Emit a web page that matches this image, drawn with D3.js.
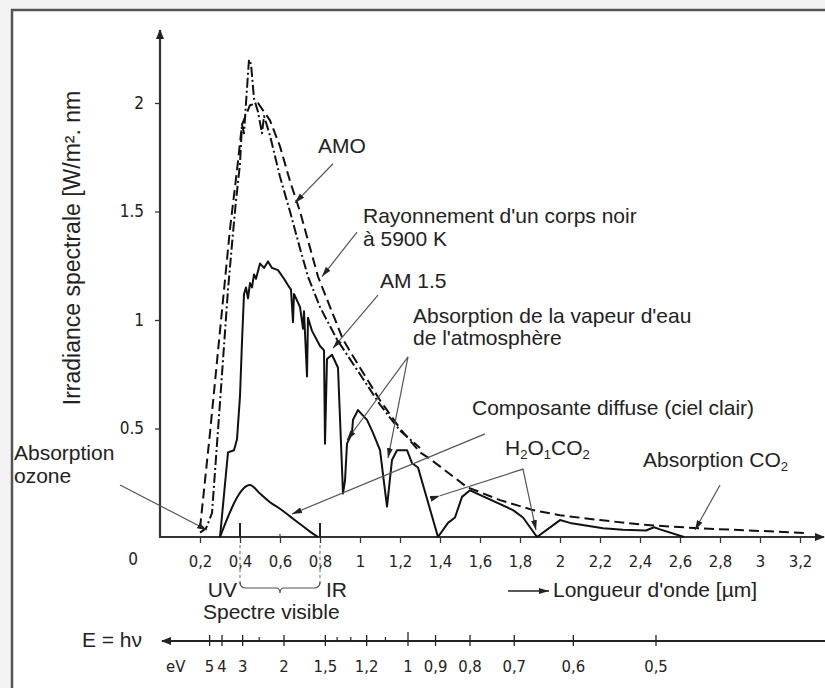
<!DOCTYPE html>
<html>
<head>
<meta charset="utf-8">
<script src="https://cdn.jsdelivr.net/npm/d3@7"></script>
<style type="text/css">
body { margin: 0; background: #f3f3f3; }
svg { display: block; }
.lbl { font-family: "Liberation Sans", Arial, sans-serif; font-size: 21px; fill: #222; }
.tk { font-family: "Liberation Sans Narrow", "DejaVu Sans Condensed", sans-serif; font-size: 16.5px; fill: #222; }
.curve { fill: none; stroke: #111; stroke-width: 2; stroke-linejoin: round; }
.note { fill: none; stroke: #555; stroke-width: 1.2; }
</style>
</head>
<body>
<div id="chart"></div>
<script>

// wavelength (µm) / spectral irradiance (W/m².nm)
var am0_wl  = [0.20, 0.23, 0.26, 0.30, 0.34, 0.36, 0.38, 0.40, 0.41, 0.42, 0.43, 0.445, 0.455, 0.47, 0.49, 0.51, 0.52, 0.55, 0.60, 0.65, 0.70, 0.74, 0.80, 0.885, 1.0, 1.1, 1.2, 1.3];
var am0_val = [0.02, 0.04, 0.11, 0.62, 1.14, 1.35, 1.55, 1.72, 1.90, 1.86, 2.00, 2.20, 2.18, 2.02, 1.96, 1.86, 1.94, 1.85, 1.66, 1.50, 1.33, 1.20, 1.06, 0.91, 0.75, 0.61, 0.49, 0.41];

var bb_wl  = [0.20, 0.25, 0.30, 0.35, 0.385, 0.41, 0.45, 0.49, 0.55, 0.60, 0.65, 0.70, 0.79, 0.915, 1.0, 1.1, 1.2, 1.3, 1.35, 1.535, 1.7, 1.865, 2.0, 2.2, 2.42, 2.7, 3.0, 3.24];
var bb_val = [0.04, 0.48, 0.95, 1.42, 1.69, 1.90, 1.99, 2.00, 1.92, 1.80, 1.64, 1.50, 1.20, 0.91, 0.78, 0.63, 0.50, 0.39, 0.36, 0.23, 0.17, 0.124, 0.10, 0.078, 0.056, 0.04, 0.028, 0.018];

var am15_wl  = [0.30, 0.34, 0.37, 0.385, 0.40, 0.41, 0.42, 0.43, 0.44, 0.45, 0.46, 0.47, 0.48, 0.50, 0.52, 0.54, 0.56, 0.59, 0.62, 0.64, 0.655, 0.665, 0.67, 0.69, 0.70, 0.715, 0.72, 0.735, 0.74, 0.76, 0.80, 0.82, 0.825, 0.835, 0.86, 0.89, 0.915, 0.925, 0.935, 0.96, 0.965, 0.99, 1.035, 1.065, 1.10, 1.135, 1.16, 1.185, 1.235, 1.26, 1.29, 1.39, 1.44, 1.475, 1.51, 1.55, 1.765, 1.815, 1.885, 2.0, 2.05, 2.215, 2.315, 2.43, 2.47, 2.50, 2.62];
var am15_val = [0.00, 0.39, 0.40, 0.45, 0.65, 0.90, 1.12, 1.15, 1.10, 1.17, 1.15, 1.21, 1.19, 1.26, 1.24, 1.27, 1.24, 1.23, 1.19, 1.16, 1.14, 0.99, 1.12, 1.08, 1.06, 0.96, 1.04, 0.74, 1.01, 0.95, 0.88, 0.86, 0.43, 0.82, 0.84, 0.78, 0.20, 0.26, 0.43, 0.48, 0.54, 0.585, 0.54, 0.48, 0.40, 0.14, 0.355, 0.40, 0.40, 0.34, 0.32, 0.00, 0.065, 0.09, 0.185, 0.215, 0.124, 0.09, 0.00, 0.078, 0.065, 0.04, 0.033, 0.03, 0.045, 0.035, 0.00];

var diff_wl  = [0.30, 0.45, 0.50, 0.55, 0.60, 0.65, 0.70, 0.75, 0.79];
var diff_val = [0.00, 0.24, 0.20, 0.16, 0.13, 0.095, 0.06, 0.025, 0.00];

var xTicks = [0.2, 0.4, 0.6, 0.8, 1, 1.2, 1.4, 1.6, 1.8, 2, 2.2, 2.4, 2.6, 2.8, 3, 3.2];
var yTicks = [0.5, 1, 1.5, 2];
var eTicks = [5, 4, 3, 2, 1.5, 1.2, 1, 0.9, 0.8, 0.7, 0.6, 0.5];
var eMinor = [2.5, 1.4, 1.3, 1.1];
var hc = 1.24; // eV.µm

var W = 825, H = 688;

var svg = d3.select("#chart").append("svg")
	.attr("width", W).attr("height", H);

// frame
svg.append("rect").attr("x", 12).attr("y", 10).attr("width", W - 12).attr("height", H - 10)
	.attr("fill", "#fff");
svg.append("path").attr("d", "M12," + H + "V10H" + W)
	.attr("fill", "none").attr("stroke", "#555").attr("stroke-width", 2.5);

var defs = svg.append("defs");
defs.append("marker").attr("id", "tip").attr("viewBox", "0 0 10 6")
	.attr("refX", 10).attr("refY", 3).attr("markerWidth", 10).attr("markerHeight", 6)
	.attr("markerUnits", "userSpaceOnUse").attr("orient", "auto")
  .append("path").attr("d", "M0,0L10,3L0,6Z").attr("fill", "#222");
defs.append("marker").attr("id", "axtip").attr("viewBox", "0 0 10 8")
	.attr("refX", 9).attr("refY", 4).attr("markerWidth", 10).attr("markerHeight", 8)
	.attr("markerUnits", "userSpaceOnUse").attr("orient", "auto")
  .append("path").attr("d", "M0,0L10,4L0,8Z").attr("fill", "#222");

var x = d3.scaleLinear().domain([0, 3.2]).range([160, 800]);
var y = d3.scaleLinear().domain([0, 2]).range([537, 103]);

var comma = function(d) { return String(d).replace(".", ","); };

// x axis
var gx = svg.append("g").attr("transform", "translate(0," + y(0) + ")")
	.call(d3.axisBottom(x).tickValues(xTicks).tickSize(6).tickFormat(comma));
gx.select(".domain").remove();
gx.selectAll(".tick line").attr("stroke", "#333").attr("stroke-width", 1.3);
gx.selectAll(".tick text").attr("class", "tk").attr("dy", "1.3em");
gx.attr("font-size", null).attr("font-family", null);
svg.append("line").attr("x1", x(0)).attr("x2", W - 1).attr("y1", y(0)).attr("y2", y(0))
	.attr("stroke", "#333").attr("stroke-width", 2.2).attr("marker-end", "url(#axtip)");
svg.append("text").attr("class", "tk").attr("x", x(0) - 27).attr("y", y(0) + 28)
	.attr("text-anchor", "middle").style("font-size", "17px").text("0");

// visible range marks at 0.4 and 0.8
[0.4, 0.8].forEach(function(v) {
	svg.append("line").attr("x1", x(v)).attr("x2", x(v)).attr("y1", y(0) - 14).attr("y2", y(0))
		.attr("stroke", "#222").attr("stroke-width", 2);
	svg.append("line").attr("x1", x(v)).attr("x2", x(v)).attr("y1", y(0) + 8).attr("y2", 586)
		.attr("stroke", "#666").attr("stroke-width", 1).attr("stroke-dasharray", "3,3");
});
svg.append("line").attr("x1", x(0.6)).attr("x2", x(0.6)).attr("y1", y(0) - 3).attr("y2", y(0))
	.attr("stroke", "#333").attr("stroke-width", 1.2);

// y axis
var gy = svg.append("g").attr("transform", "translate(" + x(0) + ",0)")
	.call(d3.axisLeft(y).tickValues(yTicks).tickSize(5).tickFormat(d3.format("")));
gy.select(".domain").remove();
gy.selectAll(".tick line").attr("stroke", "#333").attr("stroke-width", 1.3);
gy.selectAll(".tick text").attr("class", "tk").attr("x", -16).style("font-size", "17px");
gy.attr("font-size", null).attr("font-family", null);
svg.append("line").attr("x1", x(0)).attr("x2", x(0)).attr("y1", y(0) + 1).attr("y2", 30)
	.attr("stroke", "#333").attr("stroke-width", 2.2).attr("marker-end", "url(#axtip)");

svg.append("text").attr("class", "lbl").style("font-size", "23px")
	.attr("transform", "translate(80,248) rotate(-90)")
	.attr("text-anchor", "middle").text("Irradiance spectrale [W/m². nm");

// curves
var line = d3.line().x(function(d) { return x(d[0]); }).y(function(d) { return y(d[1]); });
function pairs(a, b) { return a.map(function(v, i) { return [v, b[i]]; }); }

svg.append("path").datum(pairs(bb_wl, bb_val)).attr("class", "curve")
	.attr("stroke-dasharray", "10,5").attr("d", line);
svg.append("path").datum(pairs(am0_wl, am0_val)).attr("class", "curve")
	.attr("stroke-dasharray", "10,3,2,3").attr("d", line);
svg.append("path").datum(pairs(am15_wl, am15_val)).attr("class", "curve")
	.attr("d", line);
svg.append("path").datum(pairs(diff_wl, diff_val)).attr("class", "curve")
	.attr("d", d3.line().x(function(d) { return x(d[0]); }).y(function(d) { return y(d[1]); }).curve(d3.curveMonotoneX));

// annotations (arrow ends in data units)
function note(pts, both) {
	var p = svg.append("path").datum(pts).attr("class", "note").attr("d", line)
		.attr("marker-end", "url(#tip)");
	if (both) p.attr("marker-start", "url(#tip)");
}
function label(tx, ty, lines, gap) {
	lines.forEach(function(s, i) {
		svg.append("text").attr("class", "lbl").attr("x", tx).attr("y", ty + i * (gap || 22)).text(s);
	});
}

label(318, 153, ["AMO"]);
note([[0.865, 1.72], [0.675, 1.54]]);

label(363, 223, ["Rayonnement d'un corps noir", "à 5900 K"], 23);
note([[0.985, 1.405], [0.81, 1.2]]);

label(380, 288, ["AM 1.5"]);
note([[1.09, 1.115], [0.865, 0.87]]);

label(413, 323, ["Absorption de la vapeur d'eau", "de l'atmosphère"]);
note([[1.24, 0.83], [0.935, 0.447]]);
note([[1.24, 0.83], [1.14, 0.364]]);

label(472, 415, ["Composante diffuse (ciel clair)"]);
note([[1.625, 0.475], [0.66, 0.106]]);

var h2o = svg.append("text").attr("class", "lbl").attr("x", 505).attr("y", 455);
h2o.append("tspan").text("H");
h2o.append("tspan").attr("dy", 4).style("font-size", "13px").text("2");
h2o.append("tspan").attr("dy", -4).text("O");
h2o.append("tspan").attr("dy", 4).style("font-size", "13px").text("1");
h2o.append("tspan").attr("dy", -4).text("CO");
h2o.append("tspan").attr("dy", 4).style("font-size", "13px").text("2");
note([[1.4, 0.19], [1.815, 0.313], [1.88, 0.032]], true);

var co2 = svg.append("text").attr("class", "lbl").attr("x", 643).attr("y", 467);
co2.append("tspan").text("Absorption CO");
co2.append("tspan").attr("dy", 4).style("font-size", "13px").text("2");
note([[2.8, 0.24], [2.675, 0.032]]);

label(14, 460, ["Absorption", "ozone"], 23);
note([[-0.2, 0.24], [0.235, 0.032]]);

// visible spectrum brace
var bx0 = x(0.4), bx1 = x(0.8), bm = (bx0 + bx1) / 2;
svg.append("path").attr("class", "note").attr("stroke", "#444")
	.attr("d", "M" + bx0 + ",582Q" + bx0 + ",588 " + (bx0 + 6) + ",588L" + (bm - 4) + ",588Q" + bm + ",588 " + bm + ",593Q" + bm + ",588 " + (bm + 4) + ",588L" + (bx1 - 6) + ",588Q" + bx1 + ",588 " + bx1 + ",582");
svg.append("text").attr("class", "lbl").attr("x", 237).attr("y", 597).attr("text-anchor", "end").text("UV");
svg.append("text").attr("class", "lbl").attr("x", 326).attr("y", 597).text("IR");
svg.append("text").attr("class", "lbl").attr("x", 203).attr("y", 619).text("Spectre visible");

svg.append("line").attr("x1", 508).attr("x2", 549).attr("y1", 591).attr("y2", 591)
	.attr("stroke", "#222").attr("stroke-width", 1.5).attr("marker-end", "url(#tip)");
svg.append("text").attr("class", "lbl").attr("x", 553).attr("y", 597).text("Longueur d'onde [µm]");

// energy scale E = hc / lambda
var ey = 641;
svg.append("line").attr("x1", W).attr("x2", 162).attr("y1", ey).attr("y2", ey)
	.attr("stroke", "#222").attr("stroke-width", 1.8).attr("marker-end", "url(#axtip)");
svg.append("text").attr("class", "lbl").attr("x", 142).attr("y", 647).attr("text-anchor", "end").text("E = hν");
svg.append("text").attr("class", "tk").attr("x", 166).attr("y", 672).text("eV");
svg.selectAll(".emaj").data(eTicks).enter().append("line")
	.attr("x1", function(d) { return x(hc / d); }).attr("x2", function(d) { return x(hc / d); })
	.attr("y1", function(d) { return d === 1 ? ey - 9 : ey - 6; }).attr("y2", ey + 5)
	.attr("stroke", "#222").attr("stroke-width", 1.3);
svg.selectAll(".emin").data(eMinor).enter().append("line")
	.attr("x1", function(d) { return x(hc / d); }).attr("x2", function(d) { return x(hc / d); })
	.attr("y1", ey - 4).attr("y2", ey)
	.attr("stroke", "#222").attr("stroke-width", 1.2);
svg.selectAll(".elbl").data(eTicks).enter().append("text").attr("class", "tk")
	.attr("x", function(d) { return x(hc / d); }).attr("y", 672)
	.attr("text-anchor", "middle").text(comma);

</script>
</body>
</html>
